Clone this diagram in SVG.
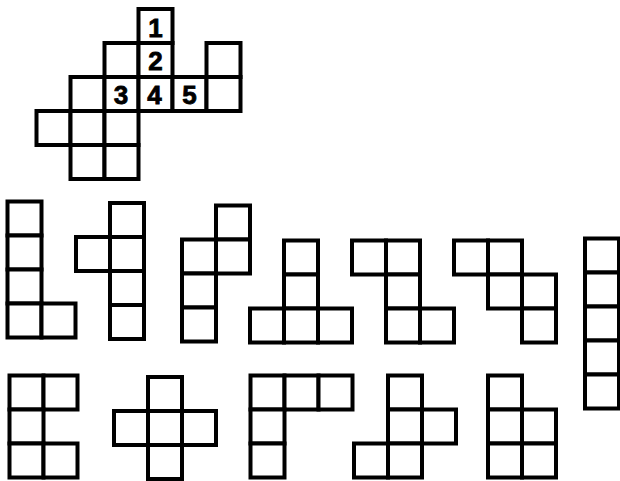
<svg xmlns="http://www.w3.org/2000/svg" xmlns:xlink="http://www.w3.org/1999/xlink" width="620" height="481" viewBox="0 0 620 481">
<style>
.c{fill:#fff;stroke:#000;stroke-width:4}
.n{font-family:"Liberation Sans",Arial,sans-serif;font-weight:bold;font-size:26px;text-anchor:middle;fill:#000;stroke:#000;stroke-width:0.8}
</style>
<defs><rect id="q" class="c" width="34" height="34"/></defs>
<rect width="620" height="481" fill="#fff"/>
<g id="board">
<use xlink:href="#q" x="138.5" y="9"/>
<use xlink:href="#q" x="104.5" y="43"/><use xlink:href="#q" x="138.5" y="43"/><use xlink:href="#q" x="206.5" y="43"/>
<use xlink:href="#q" x="70.5" y="77"/><use xlink:href="#q" x="104.5" y="77"/><use xlink:href="#q" x="138.5" y="77"/><use xlink:href="#q" x="172.5" y="77"/><use xlink:href="#q" x="206.5" y="77"/>
<use xlink:href="#q" x="36.5" y="111"/><use xlink:href="#q" x="70.5" y="111"/><use xlink:href="#q" x="104.5" y="111"/>
<use xlink:href="#q" x="70.5" y="145"/><use xlink:href="#q" x="104.5" y="145"/>
<text class="n" x="155.5" y="37">1</text>
<text class="n" x="155.5" y="70">2</text>
<text class="n" x="121" y="104">3</text>
<text class="n" x="154.5" y="104">4</text>
<text class="n" x="189.5" y="104">5</text>
</g>
<g id="pA"><use xlink:href="#q" x="7.5" y="201.5"/><use xlink:href="#q" x="7.5" y="235.5"/><use xlink:href="#q" x="7.5" y="269.5"/><use xlink:href="#q" x="7.5" y="303.5"/><use xlink:href="#q" x="41.5" y="303.5"/></g>
<g id="pB"><use xlink:href="#q" x="110" y="203"/><use xlink:href="#q" x="76" y="237"/><use xlink:href="#q" x="110" y="237"/><use xlink:href="#q" x="110" y="271"/><use xlink:href="#q" x="110" y="305"/></g>
<g id="pC"><use xlink:href="#q" x="216" y="205.5"/><use xlink:href="#q" x="182" y="239.5"/><use xlink:href="#q" x="216" y="239.5"/><use xlink:href="#q" x="182" y="273.5"/><use xlink:href="#q" x="182" y="307.5"/></g>
<g id="pD"><use xlink:href="#q" x="284" y="240.5"/><use xlink:href="#q" x="284" y="274.5"/><use xlink:href="#q" x="250" y="308.5"/><use xlink:href="#q" x="284" y="308.5"/><use xlink:href="#q" x="318" y="308.5"/></g>
<g id="pE"><use xlink:href="#q" x="352" y="240.5"/><use xlink:href="#q" x="386" y="240.5"/><use xlink:href="#q" x="386" y="274.5"/><use xlink:href="#q" x="386" y="308.5"/><use xlink:href="#q" x="420" y="308.5"/></g>
<g id="pF"><use xlink:href="#q" x="454" y="240.5"/><use xlink:href="#q" x="488" y="240.5"/><use xlink:href="#q" x="488" y="274.5"/><use xlink:href="#q" x="522" y="274.5"/><use xlink:href="#q" x="522" y="308.5"/></g>
<g id="pG"><use xlink:href="#q" x="585" y="238.5"/><use xlink:href="#q" x="585" y="272.5"/><use xlink:href="#q" x="585" y="306.5"/><use xlink:href="#q" x="585" y="340.5"/><use xlink:href="#q" x="585" y="374.5"/></g>
<g id="pH"><use xlink:href="#q" x="9.5" y="375.5"/><use xlink:href="#q" x="43.5" y="375.5"/><use xlink:href="#q" x="9.5" y="409.5"/><use xlink:href="#q" x="9.5" y="443.5"/><use xlink:href="#q" x="43.5" y="443.5"/></g>
<g id="pI"><use xlink:href="#q" x="148" y="377"/><use xlink:href="#q" x="114" y="411"/><use xlink:href="#q" x="148" y="411"/><use xlink:href="#q" x="182" y="411"/><use xlink:href="#q" x="148" y="445"/></g>
<g id="pJ"><use xlink:href="#q" x="250.5" y="375.5"/><use xlink:href="#q" x="284.5" y="375.5"/><use xlink:href="#q" x="318.5" y="375.5"/><use xlink:href="#q" x="250.5" y="409.5"/><use xlink:href="#q" x="250.5" y="443.5"/></g>
<g id="pK"><use xlink:href="#q" x="388" y="375.5"/><use xlink:href="#q" x="388" y="409.5"/><use xlink:href="#q" x="422" y="409.5"/><use xlink:href="#q" x="354" y="443.5"/><use xlink:href="#q" x="388" y="443.5"/></g>
<g id="pL"><use xlink:href="#q" x="488" y="375.5"/><use xlink:href="#q" x="488" y="409.5"/><use xlink:href="#q" x="522" y="409.5"/><use xlink:href="#q" x="488" y="443.5"/><use xlink:href="#q" x="522" y="443.5"/></g>
</svg>
